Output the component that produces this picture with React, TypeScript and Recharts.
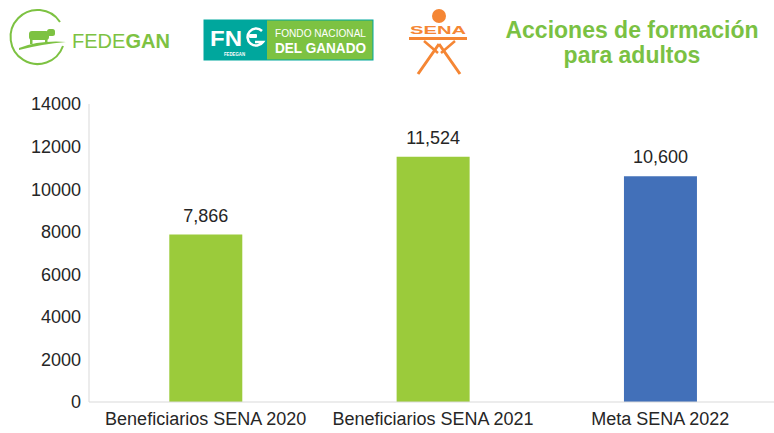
import { BarChart, Bar, XAxis, YAxis, LabelList, Cell } from 'recharts';

const categories = ['Beneficiarios SENA 2020', 'Beneficiarios SENA 2021', 'Meta SENA 2022'];
const values = [7866, 11524, 10600];
const barColors = ['#9bcb3b', '#9bcb3b', '#4270b9'];
const yTicks = [0, 2000, 4000, 6000, 8000, 10000, 12000, 14000];

const data = categories.map((name, i) => ({ name, value: values[i] }));

const font = '"Liberation Sans", Arial, sans-serif';
const green = '#7dc242';
const orange = '#f58634';

function Header() {
  return (
    <svg width={774} height={80} style={{ position: 'absolute', left: 0, top: 0 }}>
      {/* FEDEGAN logo */}
      <path d="M 60 22 A 27 27 0 1 0 63 46" fill="none" stroke={green} strokeWidth={2} />
      <path d="M 19 48 Q 40 40 66 42 Q 42 44 19 50 Z" fill={green} />
      <rect x={29} y={31} width={20} height={9} rx={3} fill={green} />
      <rect x={47} y={29} width={8} height={7} rx={2.5} fill={green} />
      <rect x={30} y={38} width={2.5} height={6} fill={green} />
      <rect x={45} y={38} width={2.5} height={6} fill={green} />
      <text x={72} y={48} fontFamily={font} fontSize={20} fill={green} textLength={98} lengthAdjust="spacingAndGlyphs">
        FEDE<tspan fontWeight="bold">GAN</tspan>
      </text>
      {/* FNG logo */}
      <rect x={204} y={20} width={169} height={40} fill={green} stroke="#00a79d" strokeWidth={1} />
      <rect x={204} y={20} width={63} height={40} fill="#00a79d" />
      <text x={210} y={46} fontFamily={font} fontSize={22} fontWeight="bold" fill="#fff" textLength={32} lengthAdjust="spacingAndGlyphs">FN</text>
      <path d="M 262 31 A 8.5 8.5 0 1 0 263 42 L 255 42" fill="none" stroke="#fff" strokeWidth={2.5} />
      <rect x={249} y={34} width={8} height={4} rx={1} fill="#fff" />
      <text x={224} y={56} fontFamily={font} fontSize={5.5} fontWeight="bold" fill="#fff" textLength={21} lengthAdjust="spacingAndGlyphs">FEDEGAN</text>
      <text x={275} y={37} fontFamily={font} fontSize={11} fill="#fff" textLength={91} lengthAdjust="spacingAndGlyphs">FONDO NACIONAL</text>
      <text x={275} y={53} fontFamily={font} fontSize={14} fontWeight="bold" fill="#fff" textLength={91} lengthAdjust="spacingAndGlyphs">DEL GANADO</text>
      {/* SENA logo */}
      <circle cx={439} cy={16} r={7} fill={orange} />
      <text x={410} y={34} fontFamily={font} fontSize={11} fontWeight="bold" fill={orange} textLength={56} lengthAdjust="spacingAndGlyphs">SENA</text>
      <rect x={409} y={37} width={58} height={3} fill={orange} />
      <path d="M 424 41 L 438 53 M 455 41 L 441 53" stroke={orange} strokeWidth={2.5} fill="none" />
      <path d="M 439 44 L 418 74 M 439 44 L 460 74" stroke={orange} strokeWidth={3} fill="none" />
      {/* title */}
      <text x={632} y={38} textAnchor="middle" fontFamily={font} fontSize={23} fontWeight="bold" fill="#7ac143">Acciones de formación</text>
      <text x={632} y={63} textAnchor="middle" fontFamily={font} fontSize={23} fontWeight="bold" fill="#7ac143">para adultos</text>
    </svg>
  );
}

export default function App() {
  return (
    <div style={{ position: 'absolute', left: 0, top: 0, width: 774, height: 433, background: '#fff', fontFamily: font }}>
      <Header />
      <div style={{ position: 'absolute', left: 0, top: 0 }}>
        <BarChart
          width={774}
          height={433}
          data={data}
          margin={{ top: 104, right: 0, left: 0, bottom: 0 }}
          barCategoryGap="34%"
        >
          <XAxis
            dataKey="name"
            height={31}
            axisLine={{ stroke: '#d9d9d9' }}
            tickLine={false}
            tick={{ fill: '#262626', fontSize: 18, fontFamily: font }}
            tickMargin={4}
            padding={{ left: 3, right: 0 }}
            interval={0}
          />
          <YAxis
            width={89}
            domain={[0, 14000]}
            ticks={yTicks}
            axisLine={{ stroke: '#d9d9d9' }}
            tickLine={false}
            tick={{ fill: '#262626', fontSize: 18, fontFamily: font }}
          />
          <Bar dataKey="value" isAnimationActive={false}>
            {data.map((entry, index) => (
              <Cell key={`cell-${index}`} fill={barColors[index]} />
            ))}
            <LabelList
              dataKey="value"
              position="top"
              offset={13}
              formatter={(v: number) => v.toLocaleString('en-US')}
              style={{ fill: '#262626', fontSize: 18, fontFamily: font }}
            />
          </Bar>
        </BarChart>
      </div>
    </div>
  );
}
